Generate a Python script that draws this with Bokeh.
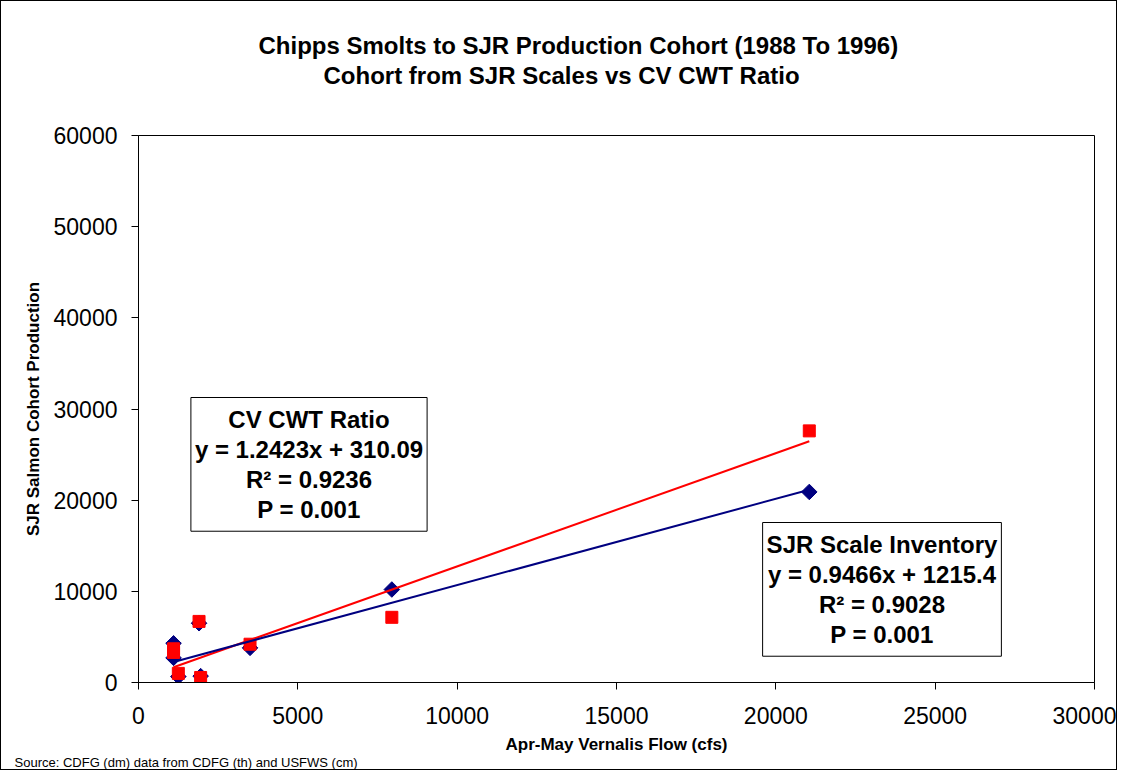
from bokeh.plotting import figure
from bokeh.models import Label, ColumnDataSource, FixedTicker, Title
from bokeh.embed import file_html
from bokeh.resources import INLINE

# ---- data ----
flow_cfs = [1100, 1100, 1250, 1900, 1950, 3500, 7950, 21050]
sjr_scale_inventory = [4300, 2700, 650, 6500, 700, 3800, 10200, 20900]
cv_cwt_ratio = [3700, 3300, 1000, 6700, 550, 4200, 7150, 27600]

fit_sjr = {"slope": 0.9466, "intercept": 1215.4, "r2": "0.9028", "p": "0.001"}
fit_cwt = {"slope": 1.2423, "intercept": 310.09, "r2": "0.9236", "p": "0.001"}

x_ticks = [0, 5000, 10000, 15000, 20000, 25000, 30000]
y_ticks = [0, 10000, 20000, 30000, 40000, 50000, 60000]

title_1 = "Chipps Smolts to SJR Production Cohort (1988 To 1996)"
title_2 = "Cohort from SJR Scales vs CV CWT Ratio"
x_title = "Apr-May Vernalis Flow (cfs)"
y_title = "SJR Salmon Cohort Production"
source_note = "Source: CDFG (dm) data from CDFG (th) and USFWS (cm)"

FONT = "Liberation Sans"
BLUE = "#000080"
RED = "#FF0000"

HAS_STANDOFF = "standoff" in Title.properties()

p = figure(width=1117, height=770, output_backend="svg", toolbar_location=None,
           x_range=(0, 30000), y_range=(0, 60000),
           min_border_left=137, min_border_right=24, min_border_top=134,
           min_border_bottom=89)
p.styles = {"border": "1px solid black"}
p.background_fill_color = "white"
p.border_fill_color = "white"
p.outline_line_color = "black"
p.outline_line_width = 1
p.xgrid.visible = False
p.ygrid.visible = False

for ax in (p.xaxis[0], p.yaxis[0]):
    ax.axis_line_color = "black"
    ax.major_tick_line_color = "black"
    ax.major_tick_out = 7
    ax.major_tick_in = 0
    ax.minor_tick_line_color = None
    ax.major_label_text_font = FONT
    ax.major_label_text_font_size = "23px"
    ax.major_label_text_color = "black"
    ax.axis_label_text_font = FONT
    ax.axis_label_text_font_style = "bold"
    ax.axis_label_text_font_size = "17px"
    ax.axis_label_text_color = "black"

p.xaxis[0].ticker = FixedTicker(ticks=x_ticks)
p.yaxis[0].ticker = FixedTicker(ticks=y_ticks)
p.xaxis[0].major_label_standoff = 17
p.yaxis[0].major_label_standoff = 14
p.xaxis[0].axis_label = x_title
p.yaxis[0].axis_label = y_title
p.xaxis[0].axis_label_standoff = 3
p.yaxis[0].axis_label_standoff = 8

src = ColumnDataSource(dict(x=flow_cfs, sjr=sjr_scale_inventory, cwt=cv_cwt_ratio))

p.scatter("x", "sjr", source=src, marker="square", angle=0.785398, size=11,
          fill_color=BLUE, line_color=BLUE)
p.scatter("x", "cwt", source=src, marker="square", size=12,
          fill_color=RED, line_color=RED)

x0, x1 = min(flow_cfs), max(flow_cfs)
p.line([x0, x1], [fit_cwt["slope"] * x0 + fit_cwt["intercept"],
                  fit_cwt["slope"] * x1 + fit_cwt["intercept"]],
       line_color=RED, line_width=2)
p.line([x0, x1], [fit_sjr["slope"] * x0 + fit_sjr["intercept"],
                  fit_sjr["slope"] * x1 + fit_sjr["intercept"]],
       line_color=BLUE, line_width=2)

def eq_text(name, fit):
    return (f"{name}\ny = {fit['slope']}x + {fit['intercept']}\n"
            f"R\u00b2 = {fit['r2']}\nP = {fit['p']}")

box_kw = dict(x_units="screen", y_units="screen", text_font=FONT,
              text_font_style="bold", text_font_size="24px", text_color="black",
              text_align="center", text_baseline="top", text_line_height=1.12,
              background_fill_color="white", border_line_color="black",
              border_line_width=1, padding=(4, 8))
p.add_layout(Label(x=170.5, y=285, text=eq_text("CV CWT Ratio", fit_cwt), **box_kw))
p.add_layout(Label(x=743.5, y=160, text=eq_text("SJR Scale Inventory", fit_sjr), **box_kw))

# titles above the frame (first added sits next to the frame)
t_kw = dict(text_font=FONT, text_font_style="bold", text_font_size="24px",
            text_color="black", align="left")
spacer = Title(text=" ", text_font=FONT, text_font_size="24px")
t2 = Title(text=title_2, offset=185, **t_kw)
t1 = Title(text=title_1, offset=120, **t_kw)
src_title = Title(text=source_note, align="left", offset=-124, text_font=FONT,
                  text_font_size="13px", text_font_style="normal",
                  text_color="black")
if HAS_STANDOFF:
    spacer.standoff = 17
    t2.standoff = 1
    t1.standoff = 1
    src_title.standoff = 0
    try:
        src_title.standoff = -8
        p.xaxis[0].axis_label_standoff = 8
    except Exception:
        pass
p.add_layout(spacer, "above")
p.add_layout(t2, "above")
p.add_layout(t1, "above")
p.add_layout(src_title, "below")

open("out.html", "w").write(file_html(p, INLINE))
